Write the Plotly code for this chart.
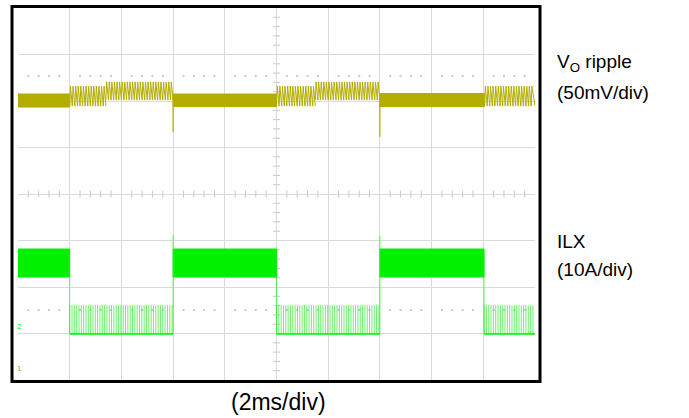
import plotly.graph_objects as go

# ---------------- data (read from the scope capture) ----------------
# x in ms (2 ms/div, 10 div), y in screen divisions (0 = bottom, 8 = top)
vo_t_start = [0.0, 2.0, 3.4, 6.0, 10.0, 11.5, 14.0, 18.05]
vo_t_end   = [2.0, 3.4, 6.0, 10.0, 11.5, 14.0, 18.05, 20.0]
vo_mode    = ["flat", "ripple", "ripple", "flat", "ripple", "ripple", "flat", "ripple"]
vo_low     = [5.87, 5.89, 6.02, 5.88, 5.89, 6.02, 5.88, 5.89]
vo_high    = [6.15, 6.32, 6.41, 6.15, 6.32, 6.41, 6.16, 6.32]
vo_spike_t = [6.0, 14.0]
vo_spike_y = [5.33, 5.23]
vo_ripple_period = 0.1  # ms

ilx_t_start = [0.0, 2.0, 6.0, 10.0, 14.0, 18.03]
ilx_t_end   = [2.0, 6.0, 10.0, 14.0, 18.03, 20.0]
ilx_mode    = ["burst", "skip", "burst", "skip", "burst", "skip"]
ilx_low     = [2.215, 0.99, 2.215, 0.99, 2.215, 0.99]
ilx_high    = [2.817, 1.61, 2.817, 1.61, 2.817, 1.61]
ilx_spike_t = [6.0, 14.0]
ilx_spike_y = [3.12, 3.10]
ilx_pulse_period = 0.09  # ms

ref_levels = [6.54, 1.505]      # dotted reference rows
trigger_level = 1.89

labels_vo = ["V<sub>O</sub> ripple", "(50mV/div)"]
labels_il = ["ILX", "(10A/div)"]
label_x = "(2ms/div)"

VO_COLOR = "#b3ad00"
IL_COLOR = "#00f000"

fig = go.Figure()

# ---------------- graticule ----------------
minor_x = [i * 0.4 for i in range(51) if i % 5 != 0]          # 0.2 div steps
minor_y = [i * 0.2 for i in range(41) if i % 5 != 0]
fig.add_trace(go.Scatter(x=minor_x, y=[4] * len(minor_x), mode="markers",
                         marker=dict(symbol="line-ns-open", size=5, color="#c8c8c8",
                                     line=dict(width=1, color="#c8c8c8")),
                         hoverinfo="skip", showlegend=False))
fig.add_trace(go.Scatter(x=[10] * len(minor_y), y=minor_y, mode="markers",
                         marker=dict(symbol="line-ew-open", size=5, color="#c8c8c8",
                                     line=dict(width=1, color="#c8c8c8")),
                         hoverinfo="skip", showlegend=False))
for lvl in ref_levels:
    fig.add_trace(go.Scatter(x=minor_x, y=[lvl] * len(minor_x), mode="markers",
                             marker=dict(symbol="square", size=2, color="#c8c8c8"),
                             hoverinfo="skip", showlegend=False))

# ---------------- Vo ripple ----------------
for t0, t1, m, lo, hi in zip(vo_t_start, vo_t_end, vo_mode, vo_low, vo_high):
    if m == "flat":
        fig.add_trace(go.Scatter(x=[t0, t1, t1, t0, t0], y=[lo, lo, hi, hi, lo],
                                 fill="toself", fillcolor=VO_COLOR, mode="lines",
                                 line=dict(color=VO_COLOR, width=1),
                                 hoverinfo="skip", showlegend=False))
    else:
        xs, ys = [], []
        n = int(round((t1 - t0) / vo_ripple_period))
        for k in range(n):
            ts = t0 + k * vo_ripple_period
            xs += [ts, ts + 0.3 * vo_ripple_period]
            ys += [lo, hi]
        xs.append(t1)
        ys.append(lo)
        fig.add_trace(go.Scatter(x=xs, y=ys, mode="lines",
                                 line=dict(color=VO_COLOR, width=1),
                                 hoverinfo="skip", showlegend=False))
for t, y in zip(vo_spike_t, vo_spike_y):
    fig.add_trace(go.Scatter(x=[t, t], y=[vo_high[0], y], mode="lines",
                             line=dict(color=VO_COLOR, width=1.2),
                             hoverinfo="skip", showlegend=False))

# ---------------- ILX ----------------
for t0, t1, m, lo, hi in zip(ilx_t_start, ilx_t_end, ilx_mode, ilx_low, ilx_high):
    if m == "burst":
        fig.add_trace(go.Scatter(x=[t0, t1, t1, t0, t0], y=[lo, lo, hi, hi, lo],
                                 fill="toself", fillcolor=IL_COLOR, mode="lines",
                                 line=dict(color=IL_COLOR, width=1),
                                 hoverinfo="skip", showlegend=False))
    else:
        xs, ys = [], []
        n = int((t1 - t0) / ilx_pulse_period)
        for k in range(n + 1):
            ts = t0 + k * ilx_pulse_period
            if ts > t1:
                break
            xs += [ts, ts, None]
            ys += [lo, hi, None]
        fig.add_trace(go.Scatter(x=xs, y=ys, mode="lines",
                                 line=dict(color="rgba(60,235,60,0.75)", width=1),
                                 hoverinfo="skip", showlegend=False))
        fig.add_trace(go.Scatter(x=[t0, t1], y=[lo, lo], mode="lines",
                                 line=dict(color=IL_COLOR, width=1.5),
                                 hoverinfo="skip", showlegend=False))
        # falling edge from the burst band
        fig.add_trace(go.Scatter(x=[t0, t0], y=[ilx_low[0], lo], mode="lines",
                                 line=dict(color="rgba(60,235,60,0.75)", width=1),
                                 hoverinfo="skip", showlegend=False))
for t, y in zip(ilx_spike_t, ilx_spike_y):
    fig.add_trace(go.Scatter(x=[t, t], y=[ilx_low[1], y], mode="lines",
                             line=dict(color="rgba(60,235,60,0.8)", width=1),
                             hoverinfo="skip", showlegend=False))

# trigger marker
fig.add_trace(go.Scatter(x=[20.05], y=[trigger_level], mode="markers", cliponaxis=False,
                         marker=dict(symbol="triangle-left", size=5, color=IL_COLOR),
                         hoverinfo="skip", showlegend=False))

grid_x = dict(range=[0, 20], dtick=2, showgrid=True, gridcolor="#dadada", gridwidth=1,
              showticklabels=False, zeroline=False, ticks="", fixedrange=True,
              showline=False)
grid_y = dict(range=[0, 8], dtick=1, showgrid=True, gridcolor="#dadada", gridwidth=1,
              showticklabels=False, zeroline=False, ticks="", fixedrange=True,
              showline=False)

fig.update_layout(
    width=689, height=418,
    margin=dict(l=18, r=154, t=8, b=38),
    paper_bgcolor="white", plot_bgcolor="white",
    xaxis=grid_x, yaxis=grid_y,
    font=dict(family="Liberation Sans, Arial, sans-serif", size=19, color="black"),
    showlegend=False,
)

# frame around the screen
fig.add_shape(type="rect", xref="paper", yref="paper",
              x0=-0.0116, x1=1.0097, y0=-0.004, y1=1.004,
              line=dict(color="black", width=3), layer="above")

# channel markers
fig.add_annotation(x=-0.006, y=(380 - 333) / 372, xref="paper", yref="paper", text="2",
                   showarrow=False, font=dict(size=8, color=IL_COLOR))
fig.add_annotation(x=-0.006, y=(380 - 375) / 372, xref="paper", yref="paper", text="1",
                   showarrow=False, font=dict(size=8, color=VO_COLOR))

lab_x = (555 - 18) / 517
for txt, py in zip(labels_vo + labels_il, [63, 92, 241, 269]):
    fig.add_annotation(x=lab_x, y=(380 - py) / 372, xref="paper", yref="paper",
                       text=txt, showarrow=False, xanchor="left", yanchor="middle",
                       align="left")
fig.add_annotation(x=(278 - 18) / 517, y=(380 - 402) / 372, xref="paper", yref="paper",
                   text=label_x, showarrow=False, xanchor="center", yanchor="middle",
                   font=dict(size=23))

fig.write_html("out.html", post_script="document.body.style.margin='0';",
               config={"displayModeBar": False})
